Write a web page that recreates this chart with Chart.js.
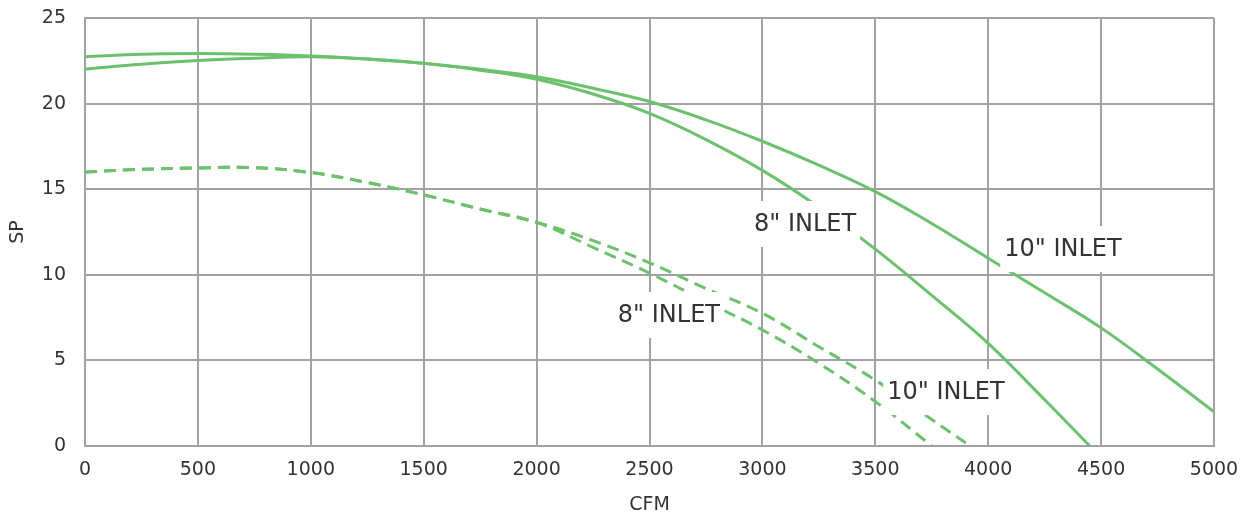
<!DOCTYPE html>
<html>
<head>
<meta charset="utf-8">
<script src="https://cdn.jsdelivr.net/npm/chart.js@4/dist/chart.umd.min.js"></script>
<style>
    html, body { margin: 0; padding: 0; background: #fff; }
    #wrap { width: 1255px; height: 517px; }
</style>
</head>
<body>
<div id="wrap"><canvas id="fanChart"></canvas></div>
<script>
// CFM / SP readings taken off the fan curves
const cfmSolid10 = [0, 250, 500, 750, 1000, 1250, 1500, 1750, 2000, 2250, 2500, 2750, 3000, 3250, 3500, 3750, 4000, 4250, 4500, 4750, 5000];
const spSolid10 = [22.02, 22.3, 22.52, 22.65, 22.74, 22.6, 22.35, 22.0, 21.57, 20.9, 20.12, 19.05, 17.8, 16.4, 14.86, 13.0, 10.97, 8.95, 6.9, 4.5, 2.0];

const cfmSolid8 = [0, 250, 500, 750, 1000, 1250, 1500, 1750, 2000, 2250, 2500, 2750, 3000, 3250, 3500, 3750, 4000, 4250, 4450];
const spSolid8 = [22.73, 22.88, 22.92, 22.88, 22.78, 22.6, 22.35, 21.95, 21.42, 20.56, 19.43, 17.9, 16.1, 13.95, 11.5, 8.8, 6.0, 2.7, 0];

const cfmDashed10 = [0, 250, 500, 750, 1000, 1250, 1500, 1750, 2000, 2250, 2500, 2750, 3000, 3250, 3500, 3750, 3920];
const spDashed10 = [16.0, 16.16, 16.24, 16.26, 15.97, 15.39, 14.67, 13.84, 13.06, 12.0, 10.7, 9.2, 7.75, 5.8, 3.85, 1.55, 0];

const cfmDashed8 = [0, 250, 500, 750, 1000, 1250, 1500, 1750, 2000, 2250, 2500, 2750, 3000, 3250, 3500, 3750];
const spDashed8 = [16.0, 16.16, 16.24, 16.26, 15.97, 15.39, 14.67, 13.84, 13.06, 11.6, 10.1, 8.43, 6.78, 4.83, 2.6, 0];

// Curve labels, anchored in data units (CFM, SP)
const labelTexts = ['8" INLET', '10" INLET', '8" INLET', '10" INLET'];
const labelCfm = [3189, 4331, 2586, 3813];
const labelSp = [12.97, 11.5, 7.65, 3.15];

const xTicks = [0, 500, 1000, 1500, 2000, 2500, 3000, 3500, 4000, 4500, 5000];
const yTicks = [0, 5, 10, 15, 20, 25];

const GREEN = '#6cc26c';
const GRID = '#a2a2a6';
const TEXT = '#333333';
const FONT = "'DejaVu Sans', sans-serif";

function toPoints(xs, ys) {
    return xs.map((x, i) => ({ x: x, y: ys[i] }));
}

function curve(xs, ys, dashed) {
    return {
        data: toPoints(xs, ys),
        borderColor: GREEN,
        borderWidth: 3,
        borderDash: dashed ? [12, 7] : [],
        pointRadius: 0,
        fill: false,
        tension: 0.4
    };
}

// White-boxed text labels drawn on top of the lines
const curveLabels = {
    id: 'curveLabels',
    afterDatasetsDraw(chart) {
        const { ctx, scales } = chart;
        ctx.save();
        ctx.font = '24px ' + FONT;
        ctx.textAlign = 'center';
        ctx.textBaseline = 'middle';
        labelTexts.forEach((text, i) => {
            const cx = scales.x.getPixelForValue(labelCfm[i]);
            const cy = scales.y.getPixelForValue(labelSp[i]);
            const w = ctx.measureText(text).width;
            ctx.fillStyle = '#ffffff';
            ctx.fillRect(cx - w / 2 - 4, cy - 23, w + 8, 46);
            ctx.fillStyle = TEXT;
            ctx.fillText(text, cx, cy + 1);
        });
        ctx.restore();
    }
};

const chart = new Chart(document.getElementById('fanChart'), {
    type: 'line',
    data: {
        datasets: [
            curve(cfmSolid10, spSolid10, false),
            curve(cfmSolid8, spSolid8, false),
            curve(cfmDashed10, spDashed10, true),
            curve(cfmDashed8, spDashed8, true)
        ]
    },
    options: {
        responsive: true,
        maintainAspectRatio: false,
        animation: false,
        layout: { padding: { left: 0, right: 41, top: 18, bottom: 0 } },
        plugins: {
            legend: { display: false },
            tooltip: { enabled: false }
        },
        scales: {
            x: {
                type: 'linear',
                min: xTicks[0],
                max: xTicks[xTicks.length - 1],
                afterBuildTicks: scale => { scale.ticks = xTicks.map(v => ({ value: v })); },
                afterFit: scale => { scale.height = 71; },
                grid: { color: GRID, lineWidth: 2, drawTicks: false },
                border: { color: GRID, width: 2 },
                ticks: {
                    color: TEXT,
                    padding: 13,
                    maxRotation: 0,
                    font: { family: FONT, size: 19 },
                    callback: value => String(value)
                },
                title: {
                    display: true,
                    text: 'CFM',
                    color: TEXT,
                    font: { family: FONT, size: 19 },
                    padding: { top: 0, bottom: 1 }
                }
            },
            y: {
                min: yTicks[0],
                max: yTicks[yTicks.length - 1],
                afterBuildTicks: scale => { scale.ticks = yTicks.map(v => ({ value: v })); },
                afterFit: scale => {
                    // fixed axis width; drop the tick-padding Chart.js adds above the plot
                    scale.width = 85;
                    scale.paddingTop = 0;
                    scale.paddingBottom = 0;
                },
                grid: { color: GRID, lineWidth: 2, drawTicks: false },
                border: { color: GRID, width: 2 },
                ticks: {
                    color: TEXT,
                    padding: 19,
                    font: { family: FONT, size: 19 },
                    callback: value => String(value)
                },
                title: {
                    display: true,
                    text: 'SP',
                    color: TEXT,
                    font: { family: FONT, size: 19 },
                    padding: { top: 7, bottom: 0 }
                }
            }
        }
    },
    plugins: [curveLabels]
});
</script>
</body>
</html>
